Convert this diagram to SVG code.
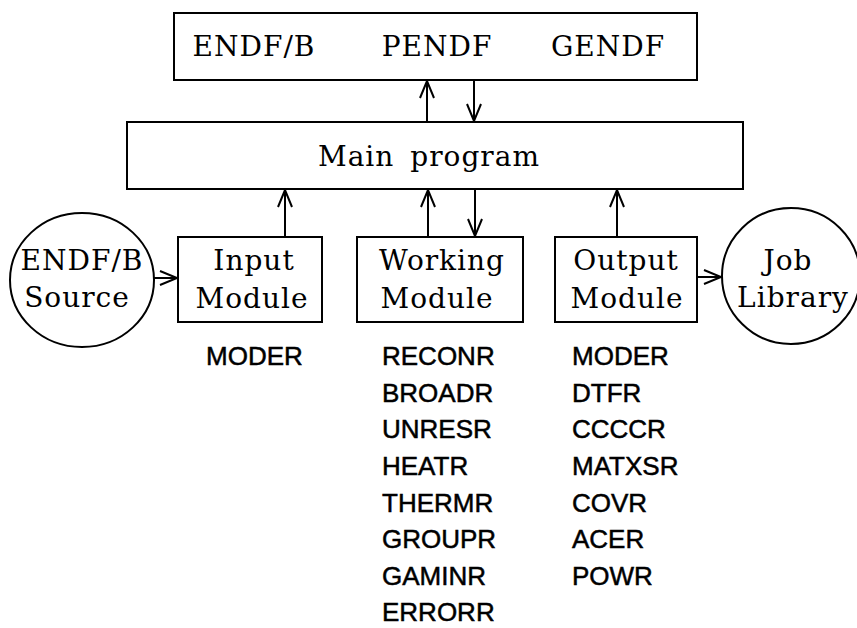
<svg xmlns="http://www.w3.org/2000/svg" width="857" height="628" viewBox="0 0 857 628">
<style>
.box{fill:#fff;stroke:#000;stroke-width:2}
.serif{font-family:"DejaVu Serif","Liberation Serif",serif;font-size:28px;letter-spacing:1px;fill:#000;text-anchor:middle}
.sans{font-family:"Liberation Sans",Arial,sans-serif;font-size:26px;fill:#000;stroke:#000;stroke-width:0.5}
.conn{stroke:#000;stroke-width:2;fill:none;marker-end:url(#arr)}
</style>
<defs>
<marker id="arr" viewBox="0 0 20 16" refX="18" refY="8" markerWidth="20" markerHeight="16" markerUnits="userSpaceOnUse" orient="auto">
<path d="M1,1 L18,8 L1,15" fill="none" stroke="#000" stroke-width="2"/>
</marker>
</defs>
<rect width="857" height="628" fill="#fff"/>
<g id="files">
<rect class="box" x="174" y="13" width="523" height="67"/>
<text class="serif" x="254" y="56">ENDF/B</text>
<text class="serif" x="437" y="56">PENDF</text>
<text class="serif" x="608" y="56">GENDF</text>
</g>
<g id="main">
<rect class="box" x="127" y="122" width="616" height="67"/>
<text class="serif" x="429" y="166" word-spacing="6">Main program</text>
</g>
<g id="source">
<ellipse class="box" cx="82" cy="280" rx="72" ry="67"/>
<text class="serif" x="82" y="270">ENDF/B</text>
<text class="serif" x="77" y="307">Source</text>
</g>
<g id="input">
<rect class="box" x="178" y="237" width="144" height="85"/>
<text class="serif" x="254" y="270">Input</text>
<text class="serif" x="252" y="308">Module</text>
</g>
<g id="working">
<rect class="box" x="357" y="237" width="166" height="85"/>
<text class="serif" x="442" y="270">Working</text>
<text class="serif" x="437" y="308">Module</text>
</g>
<g id="output">
<rect class="box" x="555" y="237" width="142" height="85"/>
<text class="serif" x="626" y="270">Output</text>
<text class="serif" x="627" y="308">Module</text>
</g>
<g id="job">
<ellipse class="box" cx="791" cy="276" rx="69" ry="68"/>
<text class="serif" x="788" y="270">Job</text>
<text class="serif" x="793" y="307">Library</text>
</g>
<g id="connectors">
<line class="conn" x1="427" y1="122" x2="427" y2="81"/>
<line class="conn" x1="474" y1="80" x2="474" y2="121"/>
<line class="conn" x1="285" y1="237" x2="285" y2="190"/>
<line class="conn" x1="428" y1="237" x2="428" y2="190"/>
<line class="conn" x1="475" y1="189" x2="475" y2="236"/>
<line class="conn" x1="617" y1="237" x2="617" y2="190"/>
<line class="conn" x1="154" y1="278" x2="177" y2="278"/>
<line class="conn" x1="697" y1="277" x2="721" y2="277"/>
</g>
<g id="lists">
<text class="sans" x="206" y="365">MODER</text>
<text class="sans" x="382" y="365">RECONR</text>
<text class="sans" x="382" y="401.6">BROADR</text>
<text class="sans" x="382" y="438.3">UNRESR</text>
<text class="sans" x="382" y="474.9">HEATR</text>
<text class="sans" x="382" y="511.6">THERMR</text>
<text class="sans" x="382" y="548.1">GROUPR</text>
<text class="sans" x="382" y="584.7">GAMINR</text>
<text class="sans" x="382" y="621">ERRORR</text>
<text class="sans" x="572" y="365">MODER</text>
<text class="sans" x="572" y="401.6">DTFR</text>
<text class="sans" x="572" y="438.3">CCCCR</text>
<text class="sans" x="572" y="474.9">MATXSR</text>
<text class="sans" x="572" y="511.6">COVR</text>
<text class="sans" x="572" y="548.1">ACER</text>
<text class="sans" x="572" y="584.7">POWR</text>
</g>
</svg>
